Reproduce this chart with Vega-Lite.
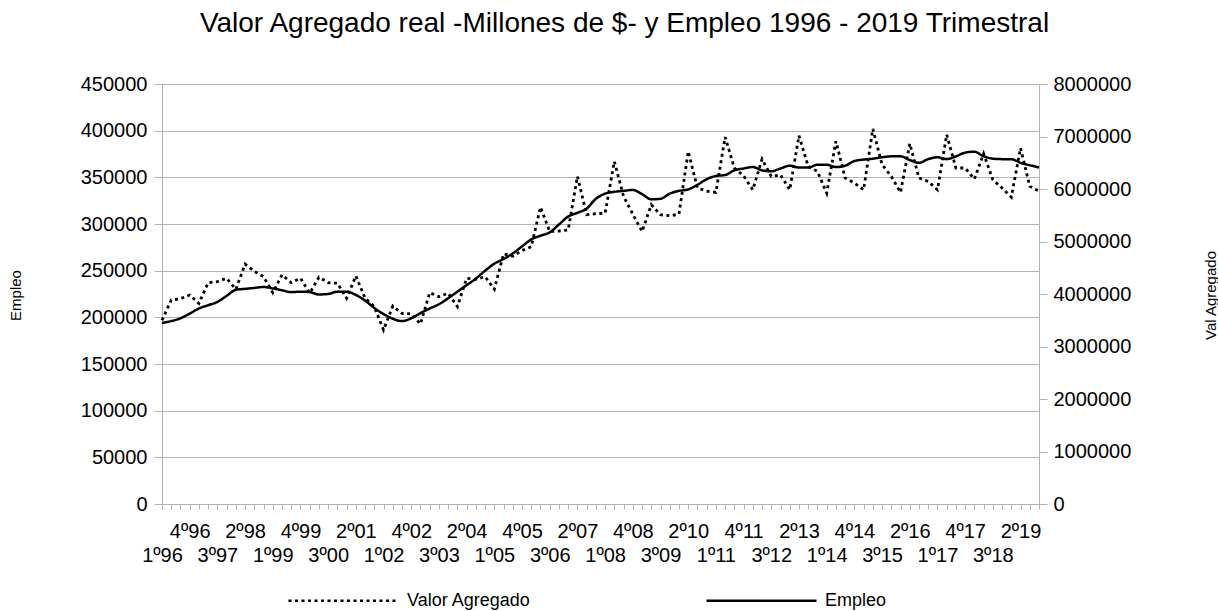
{
  "$schema": "https://vega.github.io/schema/vega-lite/v6.json",
  "autosize": {"type": "none"},
  "width": 877,
  "height": 420,
  "padding": {"left": 162, "top": 84, "right": 179, "bottom": 107},
  "background": "white",
  "title": {
    "text": "Valor Agregado real -Millones de $- y Empleo 1996 - 2019 Trimestral",
    "fontSize": 28,
    "fontWeight": "normal",
    "font": "Liberation Sans",
    "color": "black",
    "anchor": "middle",
    "baseline": "alphabetic",
    "offset": 14,
    "dx": 24
  },
  "data": {
    "values": [
      {"q": "1º96", "e": 194000, "va": 3500000},
      {"q": "2º96", "e": 196000, "va": 3885000},
      {"q": "3º96", "e": 199000, "va": 3910000},
      {"q": "4º96", "e": 204000, "va": 3980000},
      {"q": "1º97", "e": 209500, "va": 3820000},
      {"q": "2º97", "e": 213000, "va": 4215000},
      {"q": "3º97", "e": 216500, "va": 4235000},
      {"q": "4º97", "e": 223000, "va": 4300000},
      {"q": "1º98", "e": 229500, "va": 4090000},
      {"q": "2º98", "e": 230500, "va": 4570000},
      {"q": "3º98", "e": 231500, "va": 4430000},
      {"q": "4º98", "e": 232500, "va": 4330000},
      {"q": "1º99", "e": 231000, "va": 4025000},
      {"q": "2º99", "e": 229000, "va": 4365000},
      {"q": "3º99", "e": 227000, "va": 4215000},
      {"q": "4º99", "e": 227500, "va": 4300000},
      {"q": "1º00", "e": 227000, "va": 4015000},
      {"q": "2º00", "e": 224500, "va": 4320000},
      {"q": "3º00", "e": 225000, "va": 4215000},
      {"q": "4º00", "e": 227500, "va": 4205000},
      {"q": "1º01", "e": 227500, "va": 3920000},
      {"q": "2º01", "e": 224000, "va": 4345000},
      {"q": "3º01", "e": 218000, "va": 3920000},
      {"q": "4º01", "e": 210000, "va": 3760000},
      {"q": "1º02", "e": 203500, "va": 3315000},
      {"q": "2º02", "e": 198500, "va": 3770000},
      {"q": "3º02", "e": 196000, "va": 3630000},
      {"q": "4º02", "e": 199000, "va": 3620000},
      {"q": "1º03", "e": 204500, "va": 3430000},
      {"q": "2º03", "e": 209500, "va": 4025000},
      {"q": "3º03", "e": 214000, "va": 3950000},
      {"q": "4º03", "e": 220500, "va": 4015000},
      {"q": "1º04", "e": 227500, "va": 3760000},
      {"q": "2º04", "e": 234500, "va": 4300000},
      {"q": "3º04", "e": 241500, "va": 4280000},
      {"q": "4º04", "e": 250000, "va": 4330000},
      {"q": "1º05", "e": 257500, "va": 4090000},
      {"q": "2º05", "e": 262500, "va": 4765000},
      {"q": "3º05", "e": 268500, "va": 4720000},
      {"q": "4º05", "e": 276000, "va": 4830000},
      {"q": "1º06", "e": 283500, "va": 4900000},
      {"q": "2º06", "e": 287500, "va": 5655000},
      {"q": "3º06", "e": 291000, "va": 5190000},
      {"q": "4º06", "e": 299500, "va": 5200000},
      {"q": "1º07", "e": 308000, "va": 5220000},
      {"q": "2º07", "e": 312000, "va": 6240000},
      {"q": "3º07", "e": 316500, "va": 5510000},
      {"q": "4º07", "e": 327000, "va": 5530000},
      {"q": "1º08", "e": 332500, "va": 5540000},
      {"q": "2º08", "e": 334500, "va": 6525000},
      {"q": "3º08", "e": 335500, "va": 5860000},
      {"q": "4º08", "e": 336500, "va": 5520000},
      {"q": "1º09", "e": 332000, "va": 5190000},
      {"q": "2º09", "e": 326500, "va": 5700000},
      {"q": "3º09", "e": 327000, "va": 5510000},
      {"q": "4º09", "e": 332500, "va": 5490000},
      {"q": "1º10", "e": 335500, "va": 5520000},
      {"q": "2º10", "e": 337000, "va": 6715000},
      {"q": "3º10", "e": 342000, "va": 6020000},
      {"q": "4º10", "e": 348000, "va": 5960000},
      {"q": "1º11", "e": 351500, "va": 5935000},
      {"q": "2º11", "e": 352500, "va": 6990000},
      {"q": "3º11", "e": 357500, "va": 6400000},
      {"q": "4º11", "e": 359500, "va": 6250000},
      {"q": "1º12", "e": 361000, "va": 5985000},
      {"q": "2º12", "e": 357500, "va": 6570000},
      {"q": "3º12", "e": 356500, "va": 6240000},
      {"q": "4º12", "e": 359500, "va": 6270000},
      {"q": "1º13", "e": 362500, "va": 5985000},
      {"q": "2º13", "e": 360500, "va": 7015000},
      {"q": "3º13", "e": 360500, "va": 6430000},
      {"q": "4º13", "e": 363500, "va": 6335000},
      {"q": "1º14", "e": 363500, "va": 5920000},
      {"q": "2º14", "e": 361000, "va": 6910000},
      {"q": "3º14", "e": 362500, "va": 6210000},
      {"q": "4º14", "e": 367500, "va": 6115000},
      {"q": "1º15", "e": 369000, "va": 5985000},
      {"q": "2º15", "e": 370000, "va": 7145000},
      {"q": "3º15", "e": 371500, "va": 6465000},
      {"q": "4º15", "e": 372500, "va": 6240000},
      {"q": "1º16", "e": 372500, "va": 5935000},
      {"q": "2º16", "e": 368500, "va": 6865000},
      {"q": "3º16", "e": 365500, "va": 6210000},
      {"q": "4º16", "e": 369500, "va": 6145000},
      {"q": "1º17", "e": 371500, "va": 5985000},
      {"q": "2º17", "e": 369500, "va": 7035000},
      {"q": "3º17", "e": 372500, "va": 6400000},
      {"q": "4º17", "e": 376500, "va": 6400000},
      {"q": "1º18", "e": 377500, "va": 6190000},
      {"q": "2º18", "e": 372500, "va": 6675000},
      {"q": "3º18", "e": 370000, "va": 6175000},
      {"q": "4º18", "e": 369500, "va": 6020000},
      {"q": "1º19", "e": 369500, "va": 5845000},
      {"q": "2º19", "e": 365500, "va": 6780000},
      {"q": "3º19", "e": 363000, "va": 6050000},
      {"q": "4º19", "e": 360500, "va": 5960000}
    ]
  },
  "encoding": {
    "x": {
      "field": "q",
      "type": "ordinal",
      "sort": null,
      "scale": {"type": "point", "padding": 0},
      "axis": {
        "title": null,
        "labelAngle": 0,
        "labelAlign": "center",
        "labelBaseline": "top",
        "labelFontSize": 20,
        "labelLineHeight": 24,
        "labelPadding": 12,
        "labelOverlap": false,
        "labelFlush": false,
        "labelBound": false,
        "tickSize": 5,
        "grid": false,
        "labelExpr": "((((toNumber(substring(datum.value,2,4)) >= 90 ? toNumber(substring(datum.value,2,4)) - 96 : toNumber(substring(datum.value,2,4)) + 4) * 4 + toNumber(substring(datum.value,0,1)) - 1) % 3) != 0) ? '' : ((floor((((toNumber(substring(datum.value,2,4)) >= 90 ? toNumber(substring(datum.value,2,4)) - 96 : toNumber(substring(datum.value,2,4)) + 4) * 4 + toNumber(substring(datum.value,0,1)) - 1)) / 3) % 2) == 0 ? ['', datum.value] : datum.value)"
      }
    }
  },
  "layer": [
    {
      "mark": {"type": "line", "strokeWidth": 2.8, "color": "black", "strokeCap": "butt"},
      "encoding": {
        "y": {
          "field": "va",
          "type": "quantitative",
          "scale": {"domain": [0, 8000000], "nice": false, "zero": true},
          "axis": {
            "orient": "right",
            "values": [0, 1000000, 2000000, 3000000, 4000000, 5000000, 6000000, 7000000, 8000000],
            "format": "d",
            "grid": false,
            "title": "Val Agregado",
            "titleX": 171,
            "titleY": 211,
            "titleAngle": -90,
            "titleAlign": "center",
            "titleBaseline": "middle",
            "tickSize": 8,
            "labelPadding": 6,
            "labelFontSize": 20
          }
        },
        "strokeDash": {
          "datum": "Valor Agregado",
          "type": "nominal",
          "scale": {"domain": ["Valor Agregado", "Empleo"], "range": [[3, 3.5], [1, 0]]},
          "legend": {
            "title": null,
            "orient": "none",
            "direction": "horizontal",
            "legendX": 125,
            "legendY": 460,
            "symbolType": "stroke",
            "symbolSize": 12100,
            "symbolStrokeWidth": 2.5,
            "symbolStrokeColor": "black",
            "labelFontSize": 18,
            "labelOffset": 7,
            "labelColor": "black",
            "columnPadding": 170
          }
        }
      }
    },
    {
      "mark": {"type": "line", "strokeWidth": 2.5, "color": "black", "interpolate": "monotone"},
      "encoding": {
        "y": {
          "field": "e",
          "type": "quantitative",
          "scale": {"domain": [0, 450000], "nice": false, "zero": true},
          "axis": {
            "orient": "left",
            "values": [0, 50000, 100000, 150000, 200000, 250000, 300000, 350000, 400000, 450000],
            "format": "d",
            "grid": true,
            "title": "Empleo",
            "titleX": -147,
            "titleY": 211,
            "titleAngle": -90,
            "titleAlign": "center",
            "titleBaseline": "middle",
            "tickSize": 8,
            "labelPadding": 7,
            "labelFontSize": 20
          }
        },
        "strokeDash": {"datum": "Empleo", "type": "nominal"}
      }
    }
  ],
  "resolve": {"scale": {"y": "independent"}},
  "config": {
    "font": "Liberation Sans",
    "view": {"stroke": "#b3b3b3", "strokeWidth": 1},
    "axis": {
      "domainColor": "#b3b3b3",
      "tickColor": "#b3b3b3",
      "gridColor": "#b3b3b3",
      "gridWidth": 1,
      "labelColor": "black",
      "titleColor": "black",
      "titleFontWeight": "normal",
      "titleFontSize": 15,
      "labelFont": "Liberation Sans",
      "titleFont": "Liberation Sans"
    },
    "legend": {"labelFont": "Liberation Sans"}
  }
}
